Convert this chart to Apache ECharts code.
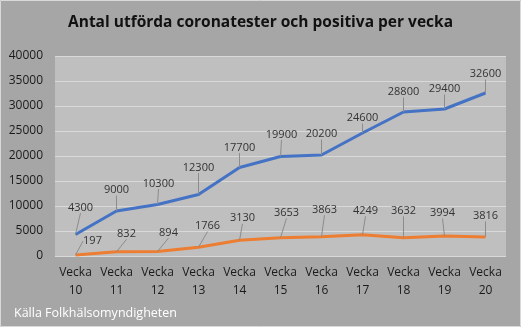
<!DOCTYPE html>
<html><head><meta charset="utf-8">
<script src="https://cdn.jsdelivr.net/npm/echarts@6/dist/echarts.min.js"></script>
<style>html,body{margin:0;padding:0;background:#a6a6a6;}#c{width:521px;height:327px;}</style>
</head><body><div id="c"></div>
<script>
const categories = ['Vecka\n10','Vecka\n11','Vecka\n12','Vecka\n13','Vecka\n14','Vecka\n15','Vecka\n16','Vecka\n17','Vecka\n18','Vecka\n19','Vecka\n20'];
const tests = [4300, 9000, 10300, 12300, 17700, 19900, 20200, 24600, 28800, 29400, 32600];
const positives = [197, 832, 894, 1766, 3130, 3653, 3863, 4249, 3632, 3994, 3816];
const titleText = 'Antal utförda coronatester och positiva per vecka';
const sourceText = 'Källa Folkhälsomyndigheten';

// label placement offsets (style only), in pixels from the point
const testsLabelDx = [5, 0, 1, 0, 0, 1, 0, 0, 0, 0, 0];
const testsLabelDy = [-27, -21, -21, -27, -20, -22, -21, -15, -20, -20, -19];
const posLabelDx = [17, 10, 11, 9, 3, 6, 3, 3, 0, -2, 0];
const posLabelDy = [-14, -18, -19, -21, -22, -25, -27, -24, -27, -23, -21];

const chart = echarts.init(document.getElementById('c'));
const font = 'Open Sans, Lato, sans-serif';
const labelStyle = {show: true, position: 'inside', fontFamily: font, fontSize: 11, color: '#333'};
const lineLbl = {show: true, lineStyle: {color: '#8c8c8c', width: 1}};
chart.setOption({
  backgroundColor: '#a6a6a6',
  animation: false,
  title: [{
    text: titleText, left: 'center', top: 10,
    textStyle: {fontFamily: font, fontSize: 15.5, fontWeight: 'bold', color: '#111'}
  }, {
    text: sourceText, left: 9, top: 302,
    textStyle: {fontFamily: font, fontSize: 12.5, fontWeight: 'normal', color: '#fff'}
  }],
  graphic: [{type: 'rect', shape: {x: 0.5, y: 0.5, width: 520, height: 326}, style: {fill: null, stroke: '#d9d9d9', lineWidth: 1}, silent: true}],
  grid: {left: 55, right: 15, top: 56, bottom: 71, show: true, backgroundColor: '#bfbfbf', borderWidth: 0},
  xAxis: {
    type: 'category', data: categories, boundaryGap: true,
    axisLine: {show: false}, axisTick: {show: false},
    axisLabel: {fontFamily: font, fontSize: 12, color: '#1a1a1a', lineHeight: 18, margin: 8, interval: 0}
  },
  yAxis: {
    type: 'value', min: 0, max: 40000, interval: 5000,
    axisLine: {show: false}, axisTick: {show: false},
    axisLabel: {fontFamily: font, fontSize: 12, color: '#1a1a1a', margin: 12, formatter: v => String(v)},
    splitLine: {lineStyle: {color: '#d9d9d9', width: 1}}
  },
  series: [{
    type: 'line', data: tests, symbol: 'circle', symbolSize: 0.1, showSymbol: true,
    lineStyle: {color: '#4472c4', width: 3}, itemStyle: {color: '#4472c4'},
    label: labelStyle,
    labelLayout: p => ({dx: testsLabelDx[p.dataIndex], dy: testsLabelDy[p.dataIndex]}),
    labelLine: lineLbl
  }, {
    type: 'line', data: positives, symbol: 'circle', symbolSize: 0.1, showSymbol: true,
    lineStyle: {color: '#ed7d31', width: 3}, itemStyle: {color: '#ed7d31'},
    label: labelStyle,
    labelLayout: p => ({dx: posLabelDx[p.dataIndex], dy: posLabelDy[p.dataIndex]}),
    labelLine: lineLbl
  }]
});
</script></body></html>
